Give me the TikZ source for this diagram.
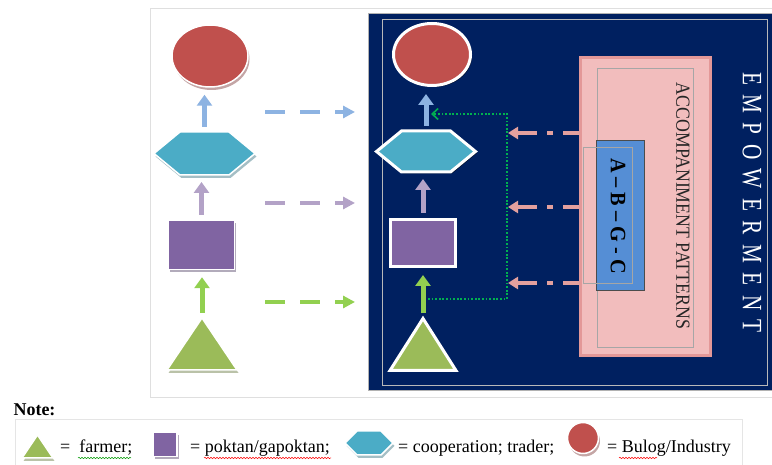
\documentclass[tikz,border=0pt]{standalone}
\usepackage{fontspec}
\setmainfont{Liberation Serif}
\usepackage{graphicx}
\usetikzlibrary{arrows.meta,shapes.geometric,shadows,decorations.pathmorphing}

\definecolor{navy}{HTML}{002060}
\definecolor{redfill}{HTML}{C0504D}
\definecolor{cyanfill}{HTML}{4BACC6}
\definecolor{purplefill}{HTML}{8064A2}
\definecolor{greenfill}{HTML}{9BBB59}
\definecolor{bluearr}{HTML}{8DB3E2}
\definecolor{purplearr}{HTML}{B3A2C7}
\definecolor{greenarr}{HTML}{92D050}
\definecolor{pinkfill}{HTML}{F2BDBD}
\definecolor{pinkline}{HTML}{E39898}
\definecolor{salmon}{HTML}{E3A09E}
\definecolor{abgcfill}{HTML}{558ED5}
\definecolor{dotgreen}{HTML}{00B050}

\newcommand{\hexoutline}[3]{%
  \path[#3] (#1.west) -- ([xshift=#2]#1.north west) -- ([xshift=-#2]#1.north east)
    -- (#1.east) -- ([xshift=-#2]#1.south east) -- ([xshift=#2]#1.south west) -- cycle;}
\newcommand{\trioutline}[2]{%
  \path[#2] (#1.south west) -- (#1.north) -- (#1.south east) -- cycle;}
\newcommand{\empgap}{\hspace{12.4pt}}

\tikzset{
  frame/.style={inner sep=0pt, outer sep=0pt},
  lshape/.style={draw=white, line width=1.5pt, fill=#1,
    drop shadow={shadow xshift=1.5pt, shadow yshift=-3pt, fill=#1!45!gray, opacity=.6}},
  rshape/.style={draw=white, line width=3pt, fill=#1,
    drop shadow={shadow xshift=1.5pt, shadow yshift=-1.5pt, fill=black, opacity=.6}},
  uparrow/.style={draw=#1, line width=5pt, shorten <=5pt, shorten >=7pt,
    -{Triangle[width=15pt,length=11pt]}},
  dasharrow/.style={draw=#1, line width=4pt, dash pattern=on 20pt off 15pt,
    -{Triangle[width=12pt,length=12pt]}},
  patarrow/.style={draw=salmon, line width=3.5pt, dash pattern=on 20pt off 10pt on 6pt off 10pt,
    {Triangle[width=12pt,length=10pt]}-},
  dotarrow/.style={draw=dotgreen, line width=1.6pt, dash pattern=on 1.8pt off 1.8pt,
    -{Straight Barb[length=6pt,width=11pt]}},
  legtxt/.style={anchor=base west, inner sep=0pt, font=\fontsize{18}{20}\selectfont},
  spell/.style={draw=#1, line width=0.5pt, decorate,
    decoration={snake, amplitude=0.7pt, segment length=3pt}},
}

\begin{document}
\begin{tikzpicture}[x=1pt,y=1pt]
\useasboundingbox (0,0) rectangle (772,465);

% panels
\draw[gray!25, fill=white] (150,68) rectangle (772,457);
\draw[gray!60, fill=navy] (368,75) rectangle (772,452);
\draw[gray!55, line width=0.4pt] (382,80) rectangle (767,446);

% left column
\node[lshape=redfill, ellipse, minimum width=76pt, minimum height=62pt, inner sep=0pt] (ellL) at (210,409) {};
\node[frame, minimum width=101pt, minimum height=43pt] (hexL) at (204.5,311.5) {};
\hexoutline{hexL}{26pt}{lshape=cyanfill}
\node[lshape=purplefill, minimum width=66pt, minimum height=49pt, inner sep=0pt] (rectL) at (201.5,220) {};
\node[frame, minimum width=70pt, minimum height=52pt] (triL) at (202,121) {};
\trioutline{triL}{lshape=greenfill}

\draw[uparrow=greenarr] (triL.north) -- (triL.north |- rectL.south);
\draw[uparrow=purplearr] (rectL.north) -- (rectL.north |- hexL.south);
\draw[uparrow=bluearr] (hexL.north) -- (hexL.north |- ellL.south);

% flows into the empowerment box
\foreach \y/\c/\n in {353/bluearr/1, 262/purplearr/2, 163/greenarr/3} {
  \coordinate (ds\n) at (265,\y);
  \coordinate (dt\n) at (355,\y);
  \draw[dasharrow=\c] (ds\n) -- (dt\n);
}

% right column
\node[rshape=redfill, ellipse, minimum width=77pt, minimum height=62pt, inner sep=0pt] (ellR) at (432,410.5) {};
\node[frame, minimum width=99pt, minimum height=41pt] (hexR) at (426,313.5) {};
\hexoutline{hexR}{25pt}{rshape=cyanfill}
\node[rshape=purplefill, minimum width=65pt, minimum height=47pt, inner sep=0pt] (rectR) at (423,222) {};
\node[frame, minimum width=66pt, minimum height=52pt] (triR) at (423,120.5) {};
\trioutline{triR}{rshape=greenfill}

\draw[uparrow=greenarr] (triR.north) -- (triR.north |- rectR.south);
\draw[uparrow=purplearr] (rectR.north) -- (rectR.north |- hexR.south);
\draw[uparrow=bluearr] (hexR.north) -- (hexR.north |- ellR.south);

% feedback line
\coordinate (fbS) at (428,166);
\coordinate (fbN) at (507,351);
\coordinate (fbE) at (431,351);
\draw[dotarrow] (fbS) -| (fbN) -- (fbE);

% accompaniment patterns
\node[draw=pinkline, line width=3pt, fill=pinkfill, minimum width=130pt, minimum height=298pt] (pat) at (645,258) {};
\node[draw=gray!70, line width=0.4pt, minimum width=96pt, minimum height=279pt] (patin) at (645,257.5) {};
\node[rotate=-90, inner sep=0pt, text=black!85, font=\fontsize{20}{20}\selectfont] (pattxt) at (683,259)
  {\scalebox{0.89}[1]{ACCOMPANIMENT PATTERNS}};
\node[draw=black!70, line width=0.6pt, fill=abgcfill, minimum width=48pt, minimum height=150pt] (abgc) at (620,250) {};
\node[draw=gray!70, line width=0.4pt, minimum width=49pt, minimum height=136pt] (abgcin) at (607.5,250) {};
\node[rotate=-90, inner sep=0pt, font=\bfseries\fontsize{22}{22}\selectfont] (abgctxt) at (618,249)
  {\scalebox{0.92}[1]{A -- B -- G - C}};

\foreach \y/\n in {332/1, 258/2, 182/3} {
  \coordinate (pa\n) at (508,\y);
  \draw[patarrow] (pa\n) -- (pa\n -| pat.west);
}

\node[rotate=-90, inner sep=0pt, text=white, font=\fontsize{28}{28}\selectfont] (emp) at (752,262.5)
  {\scalebox{0.76}[1]{E\empgap M\empgap P\empgap O\empgap W\empgap E\empgap R\empgap M\empgap E\empgap N\empgap T}};

% note
\node[inner sep=0pt, font=\bfseries\fontsize{18}{20}\selectfont] (note) at (34.5,55) {Note:};
\draw[gray!20] (15,-1) |- (742,46) -- (742,-1);

\node[frame, minimum width=31pt, minimum height=23pt] (lgTri) at (37.5,18.5) {};
\trioutline{lgTri}{lshape=greenfill}
\node[legtxt] (lgT1) at (60,12) {=\ \ farmer;};
\node[lshape=purplefill, minimum width=24pt, minimum height=24pt, inner sep=0pt] (lgSq) at (165,20.5) {};
\node[legtxt] (lgT2) at (190,12) {= poktan/gapoktan;};
\node[frame, minimum width=48pt, minimum height=24pt] (lgHex) at (369,22) {};
\hexoutline{lgHex}{12pt}{lshape=cyanfill}
\node[legtxt] (lgT3) at (398,12) {= cooperation; trader;};
\node[lshape=redfill, circle, minimum size=31pt, inner sep=0pt] (lgCirc) at (583,27) {};
\node[legtxt] (lgT4) at (607,12) {= Bulog/Industry};

\draw[spell=green!60!black] (78,7) -- (131,7);
\draw[spell=red] (204,7) -- (331,7);
\draw[spell=red] (619,7) -- (657,7);
\end{tikzpicture}
\end{document}
